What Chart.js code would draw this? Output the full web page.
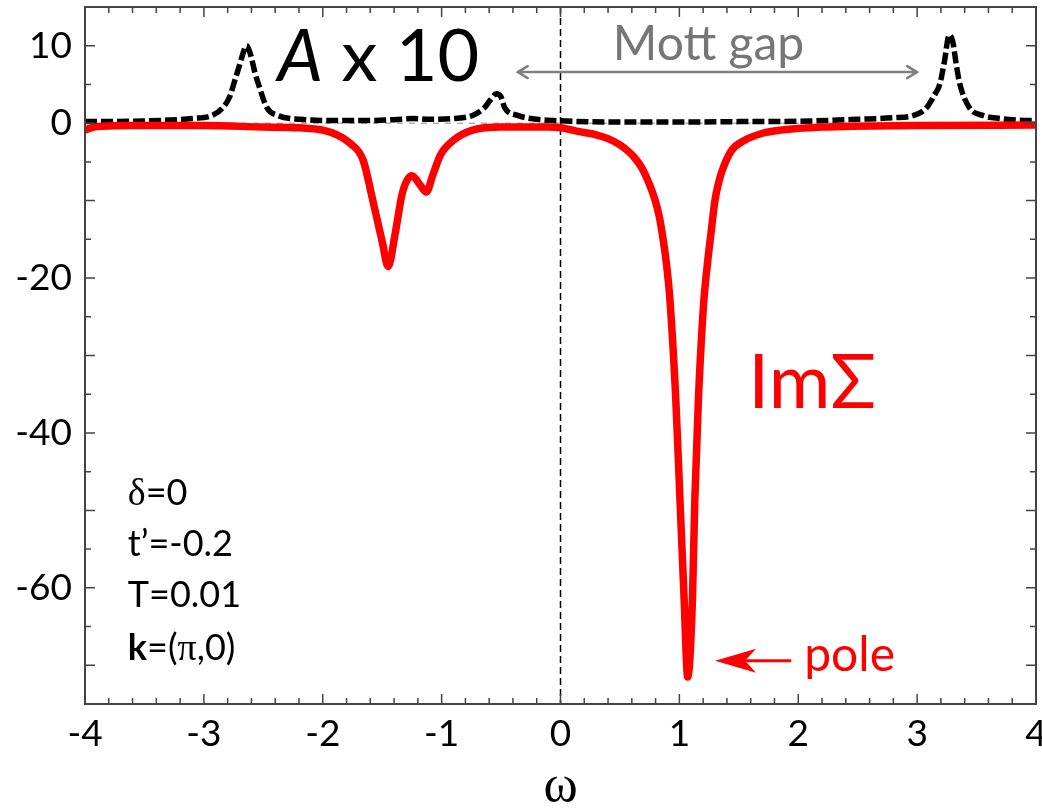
<!DOCTYPE html>
<html>
<head>
<meta charset="utf-8">
<script src="https://cdn.jsdelivr.net/npm/chart.js@4.4.0/dist/chart.umd.min.js"></script>
<style>
  html, body { margin: 0; padding: 0; background: #fff; }
  #wrap { width: 1042px; height: 809px; }
</style>
</head>
<body>
<div id="wrap"><canvas id="sigmaChart" width="1042" height="809"></canvas></div>
<script>
// spectral function A(k, w), scaled by 10
const spectralOmega = [
  -4.0, -3.6, -3.3, -3.1, -2.93, -2.84, -2.78, -2.75, -2.70, -2.66, -2.64, -2.61,
  -2.57, -2.54, -2.47, -2.38, -2.19, -1.9, -1.6, -1.4, -1.24, -1.1, -0.9, -0.74,
  -0.64, -0.58, -0.54, -0.50, -0.47, -0.36, -0.2, 0.0, 0.5, 1.0, 1.5, 2.0, 2.5,
  2.8, 2.97, 3.08, 3.14, 3.19, 3.23, 3.27, 3.30, 3.33, 3.36, 3.44, 3.55, 3.7, 3.85, 4.0
];
const spectralTimesTen = [
  0.2, 0.25, 0.4, 0.6, 1.0, 2.0, 3.5, 5.0, 7.5, 9.5, 10.0, 9.0,
  6.5, 5.0, 2.0, 1.0, 0.5, 0.35, 0.35, 0.45, 0.6, 0.5, 0.6, 1.0,
  2.0, 3.2, 3.8, 3.4, 2.0, 1.0, 0.5, 0.3, 0.15, 0.15, 0.2, 0.25, 0.5,
  0.7, 1.0, 2.0, 3.5, 5.0, 8.0, 11.4, 10.5, 7.5, 5.0, 2.0, 1.0, 0.6, 0.4, 0.3
];

// imaginary part of the self-energy
const selfEnergyOmega = [
  -4.0, -3.95, -3.85, -3.6, -3.0, -2.5, -2.2, -2.0, -1.88, -1.77, -1.66, -1.58,
  -1.50, -1.45, -1.39, -1.33, -1.25, -1.18, -1.13, -1.07, -1.01, -0.90, -0.74,
  -0.5, -0.1, 0.0, 0.16, 0.3, 0.4, 0.5, 0.56, 0.62, 0.685, 0.74, 0.795, 0.83, 0.855,
  0.89, 0.92, 0.97, 1.005, 1.04, 1.07, 1.11, 1.13, 1.16, 1.185, 1.207, 1.24, 1.266,
  1.30, 1.335, 1.37, 1.44, 1.55, 1.7, 1.85, 2.2, 3.0, 4.0
];
const selfEnergyIm = [
  -0.9, -0.6, -0.4, -0.3, -0.3, -0.5, -0.6, -0.9, -1.5, -2.6, -4.8, -9.9,
  -15.3, -18.5, -14.2, -9.0, -6.8, -8.0, -8.9, -6.5, -4.1, -2.2, -0.9,
  -0.5, -0.5, -0.6, -1.1, -1.5, -2.0, -2.8, -3.5, -4.4, -5.8, -7.6, -9.9, -12.0, -14.2,
  -18.0, -22.7, -35.7, -48.6, -61.5, -71.5, -61.5, -48.6, -35.7, -28.0, -22.7, -17.6, -14.2,
  -9.9, -7.4, -5.7, -3.5, -2.2, -1.3, -0.9, -0.5, -0.3, -0.25
];

const yLabelValues = [10, 0, -20, -40, -60];
const mottGapEdges = [-0.36, 3.0];

const SANS = "Lato, 'Open Sans', sans-serif";
const SERIF = "'Liberation Serif', 'DejaVu Serif', serif";

function toPoints(xs, ys) {
  return xs.map((x, i) => ({ x: x, y: ys[i] }));
}

// write a row of differently styled pieces, left to right
function drawRuns(ctx, x, y, runs) {
  runs.forEach(run => {
    ctx.font = run.font;
    ctx.fillText(run.text, x, y);
    x += ctx.measureText(run.text).width;
  });
}

// frame, inward ticks on all four sides and the two dashed guides
const framePlugin = {
  id: 'frame',
  beforeDatasetsDraw(chart) {
    const { ctx, chartArea: a, scales: { x, y } } = chart;
    ctx.save();
    ctx.strokeStyle = '#000';
    ctx.lineWidth = 1.5;
    ctx.setLineDash([7, 4]);
    const x0 = x.getPixelForValue(0);
    ctx.beginPath();
    ctx.moveTo(x0, a.top);
    ctx.lineTo(x0, a.bottom);
    ctx.stroke();
    ctx.strokeStyle = '#888';
    ctx.lineWidth = 1;
    ctx.setLineDash([6, 6]);
    const y0 = y.getPixelForValue(0);
    ctx.beginPath();
    ctx.moveTo(a.left, y0);
    ctx.lineTo(a.right, y0);
    ctx.stroke();
    ctx.restore();
  },
  afterDatasetsDraw(chart) {
    const { ctx, chartArea: a, scales: { x, y } } = chart;
    ctx.save();
    ctx.strokeStyle = '#444';
    ctx.lineWidth = 1.5;
    ctx.beginPath();
    for (let i = -19; i <= 19; i++) {
      const px = x.getPixelForValue(i / 5);
      const len = i % 5 === 0 ? 10 : 6;
      ctx.moveTo(px, a.bottom);
      ctx.lineTo(px, a.bottom - len);
      ctx.moveTo(px, a.top);
      ctx.lineTo(px, a.top + len);
    }
    for (let v = -70; v <= 10; v += 5) {
      const py = y.getPixelForValue(v);
      const len = v % 10 === 0 ? 10 : 6;
      ctx.moveTo(a.left, py);
      ctx.lineTo(a.left + len, py);
      ctx.moveTo(a.right, py);
      ctx.lineTo(a.right - len, py);
    }
    ctx.stroke();
    ctx.lineWidth = 2;
    ctx.strokeRect(a.left, a.top, a.right - a.left, a.bottom - a.top);
    ctx.restore();
  },
  afterDraw(chart) {
    const { ctx, scales: { x, y } } = chart;
    ctx.save();
    ctx.textBaseline = 'alphabetic';
    ctx.textAlign = 'left';

    // A x 10
    ctx.fillStyle = '#000';
    drawRuns(ctx, x.getPixelForValue(-2.38), y.getPixelForValue(5.5), [
      { text: 'A', font: `italic 72px ${SANS}` },
      { text: ' x 10', font: `72px ${SANS}` }
    ]);

    // Mott gap with its double arrow
    ctx.fillStyle = '#767676';
    ctx.font = `48px ${SANS}`;
    ctx.fillText('Mott gap', x.getPixelForValue(0.44), y.getPixelForValue(8.1));
    const gy = y.getPixelForValue(6.6);
    const gl = x.getPixelForValue(mottGapEdges[0]);
    const gr = x.getPixelForValue(mottGapEdges[1]);
    ctx.strokeStyle = '#7f7f7f';
    ctx.lineWidth = 2.5;
    ctx.lineCap = 'round';
    ctx.beginPath();
    ctx.moveTo(gl, gy); ctx.lineTo(gr, gy);
    ctx.moveTo(gl + 10, gy - 6); ctx.lineTo(gl, gy); ctx.lineTo(gl + 10, gy + 6);
    ctx.moveTo(gr - 10, gy - 6); ctx.lineTo(gr, gy); ctx.lineTo(gr - 10, gy + 6);
    ctx.stroke();

    // ImΣ label
    ctx.fillStyle = '#ff0000';
    ctx.font = `75px ${SANS}`;
    ctx.fillText('ImΣ', x.getPixelForValue(1.58), y.getPixelForValue(-36.8));

    // pole marker
    const py = y.getPixelForValue(-69.4);
    const tip = x.getPixelForValue(1.30);
    const tail = x.getPixelForValue(1.94);
    ctx.strokeStyle = '#ff0000';
    ctx.lineWidth = 3;
    ctx.lineCap = 'butt';
    ctx.beginPath();
    ctx.moveTo(tip + 28, py); ctx.lineTo(tail, py);
    ctx.stroke();
    ctx.beginPath();
    ctx.moveTo(tip, py);
    ctx.lineTo(tip + 41, py - 12);
    ctx.lineTo(tip + 30, py);
    ctx.lineTo(tip + 41, py + 12);
    ctx.closePath();
    ctx.fill();
    ctx.font = `48px ${SANS}`;
    ctx.fillText('pole', x.getPixelForValue(2.05), y.getPixelForValue(-70.8));

    // model parameters
    ctx.fillStyle = '#000';
    const px = x.getPixelForValue(-3.64);
    const reg = `36px ${SANS}`;
    drawRuns(ctx, px, y.getPixelForValue(-49.3), [
      { text: 'δ', font: `38px ${SERIF}` }, { text: '=0', font: reg }
    ]);
    drawRuns(ctx, px, y.getPixelForValue(-55.9), [{ text: 't’=-0.2', font: reg }]);
    drawRuns(ctx, px, y.getPixelForValue(-62.5), [{ text: 'T=0.01', font: reg }]);
    drawRuns(ctx, px, y.getPixelForValue(-69.3), [
      { text: 'k', font: `bold 36px ${SANS}` }, { text: '=(', font: reg },
      { text: 'π', font: `38px ${SERIF}` }, { text: ',0)', font: reg }
    ]);
    ctx.restore();
  }
};

const ctx = document.getElementById('sigmaChart').getContext('2d');
new Chart(ctx, {
  type: 'line',
  data: {
    datasets: [
      {
        label: 'ImΣ',
        data: toPoints(selfEnergyOmega, selfEnergyIm),
        borderColor: '#ff0000',
        borderWidth: 7.5,
        borderJoinStyle: 'round',
        pointRadius: 0,
        cubicInterpolationMode: 'monotone',
        fill: false
      },
      {
        label: 'A x 10',
        data: toPoints(spectralOmega, spectralTimesTen),
        borderColor: '#000',
        borderWidth: 5.5,
        borderDash: [12, 4],
        pointRadius: 0,
        cubicInterpolationMode: 'monotone',
        fill: false
      }
    ]
  },
  options: {
    responsive: false,
    animation: false,
    layout: { padding: { top: 7, right: 6, left: 0, bottom: 0 } },
    plugins: { legend: { display: false }, tooltip: { enabled: false } },
    scales: {
      x: {
        type: 'linear',
        min: -4,
        max: 4,
        grid: { display: false, drawTicks: false },
        border: { display: false },
        ticks: { stepSize: 1, color: '#000', padding: 8, maxRotation: 0,
                 font: { family: SANS, size: 37 } },
        title: { display: true, text: 'ω', color: '#000', padding: 0,
                 font: { family: SERIF, size: 52, lineHeight: 0.85 } },
        afterFit: s => {
          s.height = 105;
          s.paddingLeft = 0;
          s.paddingRight = 0;
        }
      },
      y: {
        min: -75,
        max: 15,
        grid: { display: false, drawTicks: false },
        border: { display: false },
        ticks: { color: '#000', padding: 13, font: { family: SANS, size: 37 } },
        afterBuildTicks: s => { s.ticks = yLabelValues.map(v => ({ value: v })); },
        afterFit: s => {
          s.width = 85;
          s.paddingTop = 0;
          s.paddingBottom = 0;
        }
      }
    }
  },
  plugins: [framePlugin]
});
</script>
</body>
</html>
